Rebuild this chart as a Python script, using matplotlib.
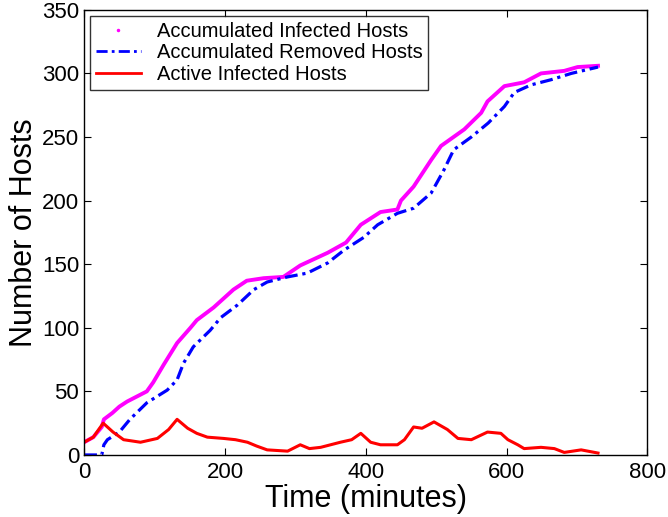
import numpy as np
import matplotlib
matplotlib.use('Agg')
import matplotlib.pyplot as plt
from matplotlib.lines import Line2D

plt.rcParams['font.family'] = ['Liberation Sans', 'DejaVu Sans']

# accumulated infected hosts
t_inf = [0, 13, 25, 28, 40, 50, 61, 75, 89, 98, 113, 132, 151, 160, 184, 212, 231, 255,
         283, 307, 346, 372, 393, 421, 445, 450, 468, 493, 507, 540, 564, 573, 597, 625,
         649, 682, 701, 730]
v_inf = [10, 14, 22, 28, 33, 38, 42, 46, 50, 57, 71, 88, 100, 106, 116, 130, 137, 139,
         140, 149, 159, 167, 181, 191, 193, 200, 211, 232, 243, 256, 269, 278, 290, 293,
         300, 302, 305, 306]

# accumulated removed hosts
t_rem = [0, 25, 28, 33, 50, 65, 89, 118, 132, 141, 155, 179, 194, 218, 241, 260, 289,
         317, 346, 369, 397, 417, 445, 468, 493, 511, 525, 550, 574, 597, 611, 635, 663,
         692, 730]
v_rem = [0, 0, 8, 12, 18, 28, 41, 51, 59, 72, 85, 98, 108, 118, 130, 136, 140,
         143, 151, 161, 171, 181, 190, 194, 206, 224, 240, 250, 261, 274, 285, 291, 295,
         300, 305]

# active infected hosts
t_act = [0, 13, 27, 41, 56, 80, 104, 120, 132, 147, 160, 175, 198, 215, 232, 245, 260,
         289, 307, 320, 336, 364, 380, 393, 407, 421, 445, 455, 468, 480, 497, 516, 531,
         550, 573, 592, 602, 616, 625, 649, 668, 682, 706, 730]
v_act = [10, 14, 25, 18, 12, 10, 13, 20, 28, 21, 17, 14, 13, 12, 10, 7, 4,
         3, 8, 5, 6, 10, 12, 17, 10, 8, 8, 12, 22, 21, 26, 20, 13,
         12, 18, 17, 12, 8, 5, 6, 5, 2, 4, 1.5]

fig = plt.figure(figsize=(6.68, 5.17), dpi=100)
ax = fig.add_axes([0.126, 0.12, 0.843, 0.861])

ax.plot(t_inf, v_inf, color='#ff00ff', lw=2.8)
ax.plot(t_rem, v_rem, color='#0000ff', lw=2.3, linestyle=(0, (4, 1.5, 1, 1.5)))
ax.plot(t_act, v_act, color='#ff0000', lw=2.2)

handles = [Line2D([], [], color='#ff00ff', marker='.', markersize=3, linestyle='none'),
           Line2D([], [], color='#0000ff', lw=2, linestyle=(0, (4, 1.5, 1, 1.5))),
           Line2D([], [], color='#ff0000', lw=2)]
labels = ['Accumulated Infected Hosts', 'Accumulated Removed Hosts', 'Active Infected Hosts']
leg = ax.legend(handles, labels, loc='upper left', fontsize=14.5, frameon=True, fancybox=False,
                edgecolor='black', borderpad=0.3, labelspacing=0.12, handlelength=2.2,
                handletextpad=0.8, borderaxespad=0.3, bbox_to_anchor=(0.0, 1.0))
leg.get_frame().set_linewidth(1.0)

ax.set_xlim(0, 800)
ax.set_ylim(0, 350)
ax.set_xticks(range(0, 801, 200))
ax.set_yticks(range(0, 351, 50))
ax.tick_params(direction='in', top=True, right=True, labelsize=16, length=5, width=0.8)
ax.tick_params(axis='x', pad=5)
for s in ax.spines.values():
    s.set_linewidth(1.0)
ax.set_xlabel('Time (minutes)', fontsize=22, labelpad=1)
ax.set_ylabel('Number of Hosts', fontsize=22, labelpad=2)

fig.savefig('out.png', dpi=100)
